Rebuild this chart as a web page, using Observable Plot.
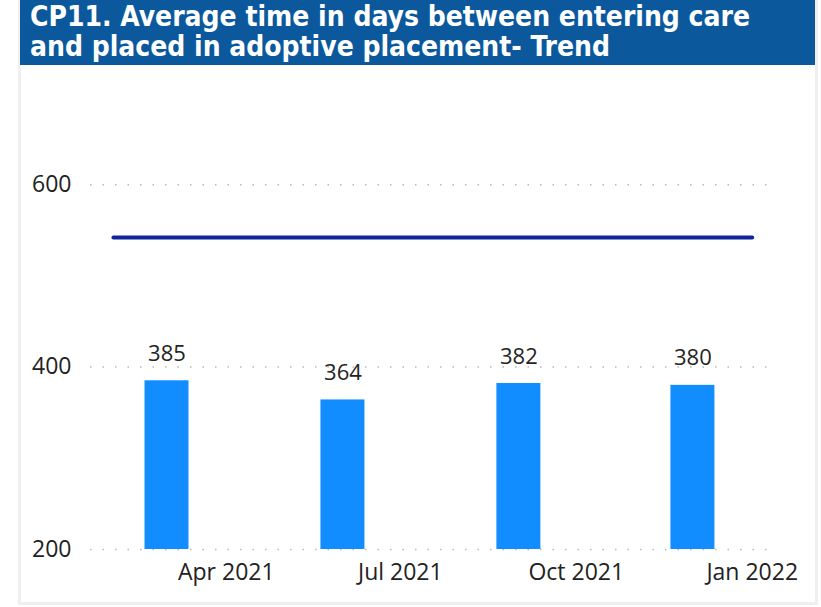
<!DOCTYPE html>
<html>
<head>
<meta charset="utf-8">
<script src="https://cdn.jsdelivr.net/npm/d3@7"></script>
<script src="https://cdn.jsdelivr.net/npm/@observablehq/plot@0.6"></script>
<style>
  html, body { margin: 0; padding: 0; background: #fff; }
  body { width: 821px; height: 607px; position: relative; overflow: hidden; }
  #panel { position: absolute; left: 18px; top: 0; width: 800px; height: 605px; box-sizing: border-box;
           border-left: 3px solid #efefef; border-right: 3px solid #efefef; border-bottom: 3px solid #efefef; }
  #title { position: absolute; left: 20px; top: 0; width: 795px; height: 65px; background: #0b599c; }
  .tl { position: absolute; left: 10px; white-space: nowrap; color: #fff; font-family: "Liberation Sans Narrow", "DejaVu Sans Condensed", sans-serif;
        font-weight: bold; font-size: 28px; line-height: 30px; transform-origin: 0 0; }
  #chart { position: absolute; left: 0; top: 65px; }
</style>
</head>
<body>
<div id="panel"></div>
<div id="title">
  <div class="tl" id="t1" style="top:2px">CP11. Average time in days between entering care</div>
  <div class="tl" id="t2" style="top:32px">and placed in adoptive placement- Trend</div>
</div>
<div id="chart"></div>
<script>
// Data
const periods = ["2021-03-01", "2021-06-01", "2021-09-01", "2021-12-01"];
const values = [385, 364, 382, 380];
const targetDates = ["2021-02-01", "2022-01-01"];
const targetValues = [542, 542];
const tickDates = ["2021-04-01", "2021-07-01", "2021-10-01", "2022-01-01"];
const yTicks = [200, 400, 600];

const bars = periods.map((p, i) => ({date: new Date(p + "T00:00:00Z"), value: values[i]}));
const target = targetDates.map((p, i) => ({date: new Date(p + "T00:00:00Z"), value: targetValues[i]}));
const xTicks = tickDates.map(p => new Date(p + "T00:00:00Z"));

const font = "'Segoe UI', 'Open Sans', sans-serif";
const textColor = "#252423";

const chart = Plot.plot({
  width: 821,
  height: 542,
  marginLeft: 90,
  marginRight: 54,
  marginTop: 28,
  marginBottom: 58,
  style: {fontFamily: font, fontSize: "22px", color: textColor, background: "transparent"},
  x: {type: "utc", domain: [new Date("2021-01-20T00:00:00Z"), new Date("2022-01-09T00:00:00Z")]},
  y: {domain: [200, 700]},
  marks: [
    Plot.gridY(yTicks, {stroke: "#b8b8b8", strokeOpacity: 1, strokeWidth: 1.5, strokeDasharray: "1.5,11"}),
    Plot.rect(bars, {
      x1: d => d3.utcHour.offset(d.date, -276),
      x2: d => d3.utcHour.offset(d.date, 276),
      y1: 200, y2: "value", fill: "#118DFF"
    }),
    Plot.text(bars, {x: "date", y: "value", text: d => String(d.value), dy: -27, fontSize: 22, fill: textColor, fontFamily: font}),
    Plot.line(target, {x: "date", y: "value", stroke: "#12239E", strokeWidth: 4, strokeLinecap: "round"}),
    Plot.axisY(yTicks, {tickSize: 0, tickPadding: 19, fontSize: 23, label: null, fill: "#222"}),
    Plot.axisX(xTicks, {tickSize: 0, tickPadding: 14, fontSize: 23, label: null, tickFormat: d3.utcFormat("%b %Y"), fill: "#222"})
  ]
});
document.getElementById("chart").appendChild(chart);

// Fit the title width to the reference
const t1 = document.getElementById("t1"), t2 = document.getElementById("t2");
const w = t1.getBoundingClientRect().width;
const s = 720 / w;
t1.style.transform = `scaleX(${s})`;
t2.style.transform = `scaleX(${s})`;
</script>
</body>
</html>
